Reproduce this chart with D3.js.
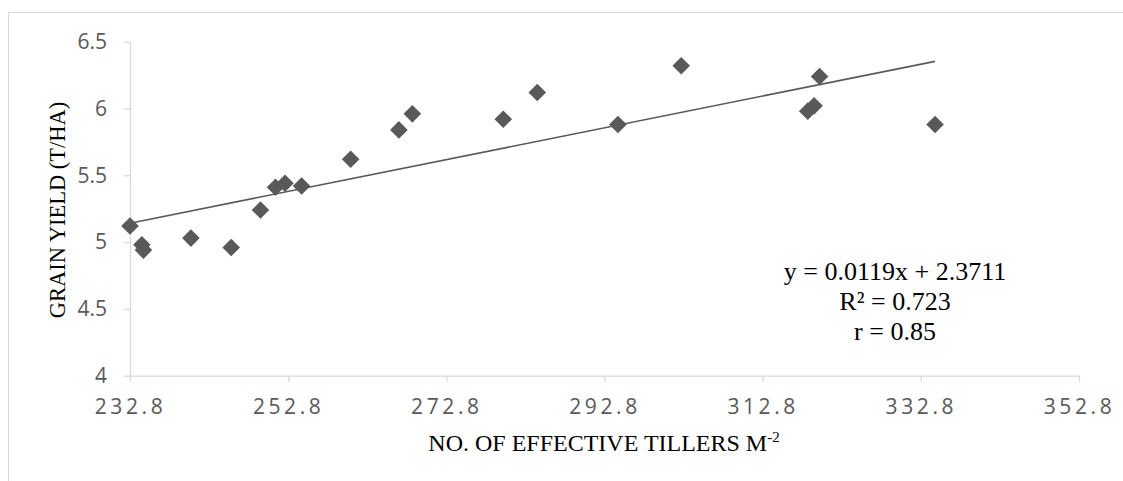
<!DOCTYPE html>
<html>
<head>
<meta charset="utf-8">
<script src="https://cdn.jsdelivr.net/npm/d3@7"></script>
<style>
  body { margin: 0; background: #fff; }
  svg { display: block; }
</style>
</head>
<body>
<div id="graph"></div>
<script>
// data
var tillers = [232.8, 234.3, 234.5, 240.5, 245.6, 249.3, 251.2, 252.4, 254.5, 260.7,
               266.8, 268.5, 280.0, 284.3, 294.5, 302.5, 318.5, 319.3, 320.0, 334.6];
var grainYield = [5.12, 4.98, 4.94, 5.03, 4.96, 5.24, 5.41, 5.44, 5.42, 5.62,
                  5.84, 5.96, 5.92, 6.12, 5.88, 6.32, 5.98, 6.02, 6.24, 5.88];
var xTicks = [232.8, 252.8, 272.8, 292.8, 312.8, 332.8, 352.8];
var yTicks = [4, 4.5, 5, 5.5, 6, 6.5];
var slope = 0.0119, intercept = 2.3711;
var statLines = ["y = 0.0119x + 2.3711", "R\u00b2 = 0.723", "r = 0.85"];

var W = 1123, H = 481;
var grey = "#595959", axisGrey = "#d9d9d9";

var svg = d3.select("#graph")
            .append("svg")
            .attr("width", W)
            .attr("height", H);

// outer chart frame
svg.append("rect")
    .attr("x", 8.5).attr("y", 12.5)
    .attr("width", 1300).attr("height", 600)
    .attr("fill", "none")
    .attr("stroke", axisGrey);

var x = d3.scaleLinear().domain([232.8, 352.8]).range([130, 1079]);
var y = d3.scaleLinear().domain([4, 6.5]).range([375.7, 41.7]);

// X axis
var gx = svg.append("g")
    .attr("transform", "translate(0," + y(4) + ")")
    .call(d3.axisBottom(x).tickValues(xTicks).tickFormat(d3.format(".1f"))
            .tickSize(6).tickSizeOuter(0).tickPadding(17));
gx.selectAll("path, line").attr("stroke", axisGrey).attr("stroke-width", 1.3);
gx.selectAll("text")
    .attr("fill", grey)
    .style("font-family", "'Open Sans', sans-serif")
    .style("font-size", "21px")
    .style("letter-spacing", "3.6px");

// Y axis
var gy = svg.append("g")
    .attr("transform", "translate(" + x(232.8) + ",0)")
    .call(d3.axisLeft(y).tickValues(yTicks).tickFormat(d3.format("~g"))
            .tickSize(6).tickSizeOuter(0).tickPadding(17));
gy.selectAll("path, line").attr("stroke", axisGrey).attr("stroke-width", 1.3);
gy.selectAll("text")
    .attr("fill", grey)
    .style("font-family", "'Open Sans', sans-serif")
    .style("font-size", "21px");

// trend line
var x0 = d3.min(tillers), x1 = d3.max(tillers);
svg.append("line")
    .attr("x1", x(x0)).attr("y1", y(slope * x0 + intercept))
    .attr("x2", x(x1)).attr("y2", y(slope * x1 + intercept))
    .attr("stroke", grey)
    .attr("stroke-width", 1.6);

// diamond markers
var pts = tillers.map(function(t, i) { return {t: t, v: grainYield[i]}; });
svg.selectAll("path.pt")
    .data(pts)
    .enter()
    .append("path")
    .attr("class", "pt")
    .attr("d", "M0,-8.8L8.8,0L0,8.8L-8.8,0Z")
    .attr("transform", function(d) { return "translate(" + x(d.t) + "," + y(d.v) + ")"; })
    .attr("fill", grey);

// regression text
svg.append("g").selectAll("text")
    .data(statLines)
    .enter()
    .append("text")
    .attr("x", 895)
    .attr("y", function(d, i) { return 280 + i * 30; })
    .attr("text-anchor", "middle")
    .style("font-family", "'Liberation Serif', 'Times New Roman', serif")
    .style("font-size", "26px")
    .attr("fill", "#000")
    .text(function(d) { return d; });

// axis titles
var xt = svg.append("text")
    .attr("x", 604)
    .attr("y", 451)
    .attr("text-anchor", "middle")
    .style("font-family", "'Liberation Serif', 'Times New Roman', serif")
    .style("font-size", "24px")
    .attr("fill", "#000");
xt.append("tspan").text("NO. OF EFFECTIVE TILLERS M");
xt.append("tspan").attr("dy", -9).style("font-size", "15px").text("-2");

svg.append("text")
    .attr("transform", "translate(65,210) rotate(-90)")
    .attr("text-anchor", "middle")
    .style("font-family", "'Liberation Serif', 'Times New Roman', serif")
    .style("font-size", "22.5px")
    .attr("fill", "#000")
    .text("GRAIN YIELD (T/HA)");
</script>
</body>
</html>
